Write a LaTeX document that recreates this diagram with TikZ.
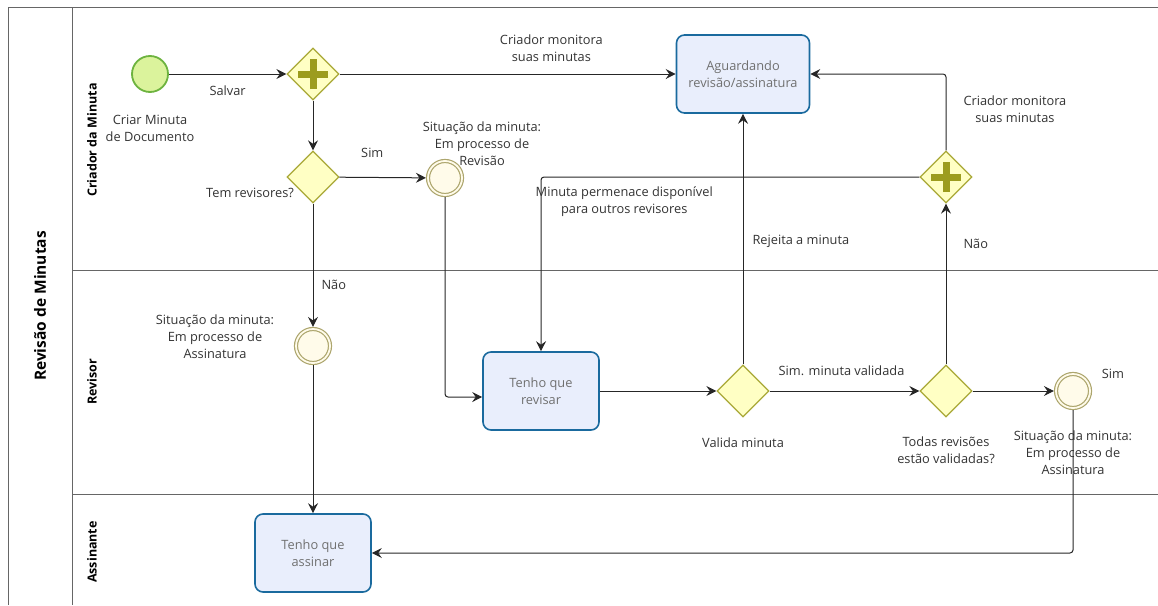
\documentclass[tikz,border=0pt]{standalone}
\usepackage{fontspec}
\setmainfont{Open Sans}
\usetikzlibrary{arrows.meta,shapes.geometric,positioning}
\definecolor{taskline}{HTML}{1A6A9E}
\definecolor{taskfill}{HTML}{E9EEFC}
\definecolor{tasktext}{HTML}{707070}
\definecolor{gwline}{HTML}{A9A837}
\definecolor{gwfill}{HTML}{FFFFC4}
\definecolor{gwplus}{HTML}{9C9C1E}
\definecolor{startline}{HTML}{6DB33F}
\definecolor{startfill}{HTML}{DBF39C}
\definecolor{evline}{HTML}{ADA66E}
\definecolor{evfill}{HTML}{FFFBEA}
\newcommand{\txtsize}{\fontsize{12.8}{17}\selectfont}
\tikzset{%
	task/.style       = {draw=taskline, fill=taskfill, line width=1.6pt, rounded corners=8pt, minimum width=116pt, minimum height=78pt, align=center, text=tasktext, font=\txtsize},
	gateway/.style    = {draw=gwline, fill=gwfill, diamond, line width=1.3pt, minimum width=52pt, minimum height=52pt, inner sep=0pt},
	parallel/.style   = {gateway, path picture={\draw[gwplus, line width=7pt] (path picture bounding box.center) ++(-15pt,0pt) -- ++(30pt,0pt) (path picture bounding box.center) ++(0pt,-15pt) -- ++(0pt,30pt);}},
	startevent/.style = {circle, draw=startline, fill=startfill, line width=1.8pt, minimum size=36pt},
	interevent/.style = {circle, draw=evline, double=evfill, double distance=1.8pt, fill=evfill, line width=1.2pt, minimum size=34pt, outer sep=2.1pt},
	arrow/.style      = {draw=black!85, line width=1pt, -{Stealth[length=10pt,width=10pt,inset=3.5pt]}},
	lane/.style       = {draw=black!60, line width=1pt},
	lanetitle/.style  = {rotate=90, font=\fontsize{12.5}{14}\selectfont\bfseries},
	txt/.style        = {align=center, text=black!80, font=\txtsize, inner sep=1pt},
}

\begin{document}
\begin{tikzpicture}[x=1pt,y=-1pt]
	\useasboundingbox (0,0) rectangle (1158,605);
	% pool and lanes
	\draw[lane] (8,605) -- (8,7) -- (1158,7);
	\draw[lane] (72,7) -- (72,605);
	\draw[lane] (72,270) -- (1158,270);
	\draw[lane] (72,494) -- (1158,494);
	\node[rotate=90, font=\fontsize{15.5}{18}\selectfont\bfseries] at (40,306) {Revisão de Minutas};
	\node[lanetitle] at (92,140) {Criador da Minuta};
	\node[lanetitle] at (92,382) {Revisor};
	\node[lanetitle] at (92,552) {Assinante};
	
	% criador da minuta
	\node[startevent] (inicio) at (150,74) {};
	\node[txt] at (150,128) {Criar Minuta\\de Documento};
	\node[parallel] (gwsalvar) at (313,74) {};
	\node[gateway] (gwrevisores) at (313,177) {};
	\node[txt] at (250,193) {Tem revisores?};
	\node[interevent] (evrevisao) at (445,178) {};
	\node[txt] at (482,144) {Situação da minuta:\\Em processo de\\Revisão};
	\node[task, minimum width=133pt] (aguardando) at (743,74) {Aguardando\\revisão/assinatura};
	\node[parallel] (gwmonitora) at (946,177) {};
	
	% revisor
	\node[interevent] (evassinatura) at (313,346) {};
	\node[txt] at (215,337) {Situação da minuta:\\Em processo de\\Assinatura};
	\node[task] (revisar) at (541,391) {Tenho que\\revisar};
	\node[gateway] (gwvalida) at (743,391) {};
	\node[txt] at (743,443) {Valida minuta};
	\node[gateway] (gwtodas) at (946,391) {};
	\node[txt] at (946,450) {Todas revisões\\estão validadas?};
	\node[interevent] (evfim) at (1073,391) {};
	\node[txt] at (1073,453) {Situação da minuta:\\Em processo de\\Assinatura};
	\node[txt] at (1113,374) {Sim};
	
	% assinante
	\node[task] (assinar) at (313,553) {Tenho que\\assinar};
	
	% flows
	\draw[arrow] (inicio) -- node[txt, below=10pt] {Salvar} (gwsalvar);
	\draw[arrow] (gwsalvar) -- node[txt, above=11pt, pos=0.63] {Criador monitora\\suas minutas} (aguardando);
	\draw[arrow] (gwsalvar) -- (gwrevisores);
	\draw[arrow] (gwrevisores) -- node[txt, above=18pt, pos=0.38] {Sim} (evrevisao);
	\draw[arrow] (gwrevisores) -- node[txt, right=7pt, pos=0.66] {Não} (evassinatura);
	\draw[arrow] (evassinatura) -- (assinar);
	\draw[arrow, rounded corners=3pt] (evrevisao) |- ([yshift=-6pt]revisar.west);
	\draw[arrow, rounded corners=3pt] (gwmonitora) -| node[txt, below=8pt, pos=0.39] {Minuta permenace disponível\\para outros revisores} (revisar);
	\draw[arrow, rounded corners=3pt] (gwmonitora) |- node[txt, right=16pt, pos=0.27] {Criador monitora\\suas minutas} (aguardando);
	\draw[arrow] (revisar) -- (gwvalida);
	\draw[arrow] (gwvalida) -- node[txt, right=8pt, pos=0.49] {Rejeita a minuta} (aguardando);
	\draw[arrow] (gwvalida) -- node[txt, above=14pt, pos=0.48] {Sim. minuta validada} (gwtodas);
	\draw[arrow] (gwtodas) -- node[txt, right=16pt, pos=0.75] {Não} (gwmonitora);
	\draw[arrow] (gwtodas) -- (evfim);
	\draw[arrow, rounded corners=3pt] (evfim) |- (assinar);
\end{tikzpicture}
\end{document}
